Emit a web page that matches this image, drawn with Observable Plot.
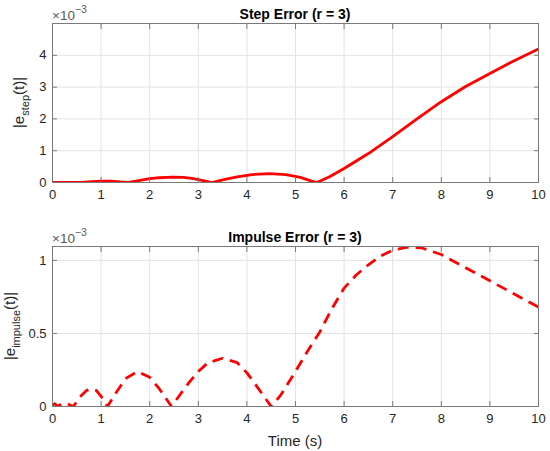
<!DOCTYPE html>
<html><head><meta charset="utf-8">
<script src="https://cdn.jsdelivr.net/npm/d3@7"></script>
<script src="https://cdn.jsdelivr.net/npm/@observablehq/plot@0.6"></script>
<style>
body{margin:0;background:#fff;}
#c svg{display:block;}
</style>
</head><body><div id="c"></div>
<script>
// Time samples (s) and |error| values (×10^-3)
const stepT = [0,0.2,0.4,0.6,0.8,1.0,1.2,1.4,1.56,1.8,2.0,2.2,2.47,2.7,2.9,3.1,3.28,3.5,3.8,4.1,4.46,4.8,5.1,5.3,5.44,5.7,6.0,6.5,7.0,7.5,8.0,8.5,9.0,9.5,10];
const stepE = [0,0.005,0.005,0,0.03,0.045,0.04,0.02,0,0.07,0.12,0.15,0.17,0.16,0.12,0.06,0,0.08,0.18,0.25,0.28,0.25,0.16,0.06,0,0.18,0.44,0.91,1.44,2.0,2.54,3.02,3.43,3.83,4.2];
const impT = [0,0.05,0.1,0.2,0.3,0.43,0.55,0.7,0.8,0.9,1.0,1.13,1.3,1.5,1.75,2.0,2.2,2.45,2.6,2.8,3.0,3.2,3.5,3.8,4.0,4.2,4.35,4.5,4.7,5.0,5.25,5.5,5.75,6.0,6.25,6.5,6.75,7.0,7.3,7.6,8.0,8.5,9.0,9.5,10];
const impE = [0.01,0.02,0,0.02,0.02,0,0.06,0.11,0.12,0.11,0.07,0,0.09,0.19,0.24,0.2,0.12,0,0.07,0.16,0.24,0.3,0.33,0.3,0.23,0.14,0.07,0,0.08,0.24,0.38,0.51,0.67,0.81,0.9,0.97,1.03,1.07,1.09,1.085,1.04,0.95,0.86,0.77,0.68];
const xTicks = [0,1,2,3,4,5,6,7,8,9,10];
const stepYTicks = [0,1,2,3,4];
const impYTicks = [0,0.5,1];
const stepYDomain = [0,5];
const impYDomain = [0,1.095];
const stepTitle = "Step Error (r = 3)";
const impTitle = "Impulse Error (r = 3)";
const xLabel = "Time (s)";

const FONT = "'Liberation Sans', Arial, Helvetica, sans-serif";
const AX = "#7a7a7a", TXT = "#262626", GRID = "#e3e3e3";

function panel({t, e, yDomain, yTicks, height, marginTop, marginBottom, dash, title, titleY, expY, sub, ylabX, xlab}) {
  const data = t.map((v, i) => ({t: v, e: e[i]}));
  const fmt = d => String(d);
  const chart = Plot.plot({
    width: 550, height, marginLeft: 52, marginRight: 12, marginTop, marginBottom,
    style: {fontFamily: FONT, fontSize: "13px", color: TXT, background: "#fff"},
    x: {domain: [0, 10]},
    y: {domain: yDomain},
    marks: [
      Plot.gridX(xTicks, {stroke: GRID, strokeOpacity: 1}),
      Plot.gridY(yTicks, {stroke: GRID, strokeOpacity: 1}),
      Plot.line(data, {x: "t", y: "e", stroke: "#ff0000", strokeWidth: 2.8,
        strokeDasharray: dash || null, strokeLinecap: "butt", strokeLinejoin: "round", clip: true}),
      Plot.frame({stroke: AX}),
      Plot.axisX(xTicks, {anchor: "bottom", tickSize: -5, stroke: AX, fill: "none", label: null}),
      Plot.axisX(xTicks, {anchor: "top", tickSize: -5, stroke: AX, fill: "none", label: null}),
      Plot.axisY(yTicks, {anchor: "left", tickSize: -5, stroke: AX, fill: "none", label: null}),
      Plot.axisY(yTicks, {anchor: "right", tickSize: -5, stroke: AX, fill: "none", label: null}),
      Plot.axisX(xTicks, {anchor: "bottom", tickSize: 0, tickPadding: 7, tickFormat: fmt, fill: TXT, label: null}),
      Plot.axisY(yTicks, {anchor: "left", tickSize: 0, tickPadding: 6, tickFormat: fmt, fill: TXT, label: null})
    ]
  });
  const svg = d3.select(chart);
  const cx = (52 + 538) / 2;
  svg.append("text").attr("x", cx).attr("y", titleY).attr("text-anchor", "middle")
    .attr("font-weight", "bold").attr("font-size", "14px").attr("fill", "#000").attr("font-family", FONT)
    .text(title);
  const ex = svg.append("text").attr("x", 52).attr("y", expY).attr("font-size", "13.5px")
    .attr("text-anchor", "start").attr("fill", "#5a5a5a").attr("font-family", FONT);
  ex.append("tspan").text("\u00d710");
  ex.append("tspan").attr("dy", -7).attr("font-size", "10.5px").text("\u22123");
  const yc = marginTop + (height - marginTop - marginBottom) / 2;
  const yl = svg.append("text").attr("transform", `translate(${ylabX},${yc}) rotate(-90)`)
    .attr("text-anchor", "middle").attr("font-size", "15px").attr("fill", TXT).attr("font-family", FONT);
  yl.append("tspan").text("|e");
  yl.append("tspan").attr("dy", 5).attr("font-size", "11px").text(sub);
  yl.append("tspan").attr("dy", -5).text("(t)|");
  if (xlab) {
    svg.append("text").attr("x", cx).attr("y", height - 5).attr("text-anchor", "middle")
      .attr("font-size", "15px").attr("fill", TXT).attr("font-family", FONT).text(xlab);
  }
  return chart;
}

const c = document.getElementById("c");
c.appendChild(panel({t: stepT, e: stepE, yDomain: stepYDomain, yTicks: stepYTicks, height: 220,
  marginTop: 23, marginBottom: 38, title: stepTitle, titleY: 19, expY: 19.5, sub: "step", ylabX: 24}));
c.appendChild(panel({t: impT, e: impE, yDomain: impYDomain, yTicks: impYTicks, height: 231,
  marginTop: 26, marginBottom: 45, dash: "11,7", title: impTitle, titleY: 22, expY: 22.5, sub: "impulse", ylabX: 15, xlab: xLabel}));
</script>
</body></html>
